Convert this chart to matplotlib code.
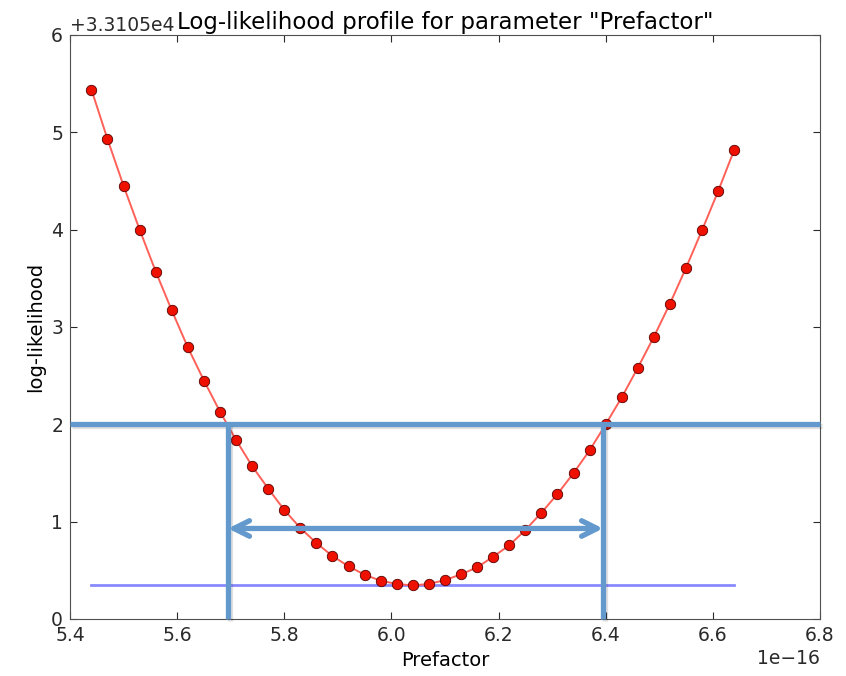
import numpy as np
import matplotlib
matplotlib.use("Agg")
import matplotlib.pyplot as plt
import matplotlib.patheffects as pe

# profile scan of the Prefactor parameter (x in units of 1e-16)
prefactor = [5.44, 5.47, 5.50, 5.53, 5.56, 5.59, 5.62, 5.65, 5.68, 5.71,
             5.74, 5.77, 5.80, 5.83, 5.86, 5.89, 5.92, 5.95, 5.98, 6.01,
             6.04, 6.07, 6.10, 6.13, 6.16, 6.19, 6.22, 6.25, 6.28, 6.31,
             6.34, 6.37, 6.40, 6.43, 6.46, 6.49, 6.52, 6.55, 6.58, 6.61, 6.64]
loglike_rel = [5.44, 4.93, 4.45, 4.00, 3.57, 3.17, 2.79, 2.45, 2.13, 1.84,
               1.57, 1.34, 1.12, 0.935, 0.78, 0.647, 0.541, 0.455, 0.393, 0.36,
               0.345, 0.36, 0.40, 0.459, 0.531, 0.64, 0.757, 0.914, 1.092, 1.284,
               1.50, 1.733, 2.00, 2.278, 2.582, 2.90, 3.241, 3.609, 3.997, 4.397, 4.822]
LL_OFFSET = 33105.0
SCALE = 1e-16

# hand-drawn annotation: 2-unit level, the two crossings, width arrow
level = 2.0
x_lo, x_hi = 5.695, 6.395
arrow_y = 0.93

x = np.array(prefactor) * SCALE
y = np.array(loglike_rel) + LL_OFFSET
ymin = min(loglike_rel) + LL_OFFSET

plt.rcParams.update({
    "font.family": "DejaVu Sans",
    "xtick.direction": "in",
    "ytick.direction": "in",
    "xtick.top": True,
    "ytick.right": True,
    "xtick.major.size": 5,
    "ytick.major.size": 5,
    "xtick.color": "#2a2a2a",
    "ytick.color": "#2a2a2a",
    "axes.edgecolor": "#505050",
})

fig = plt.figure(figsize=(8.46, 6.76), dpi=100)
ax = fig.add_axes([70 / 846, 57 / 676, 750 / 846, 584 / 676])

ax.plot(x, y, "-", color="#ff6058", lw=1.4, zorder=3)
ax.plot(x, y, "o", color="#ee1100", mec="#550000", mew=0.6, ms=7.5, zorder=4)
ax.plot([x[0], x[-1]], [ymin, ymin], color="#7575ff", lw=2, alpha=0.85, zorder=2)

c = "#6399cc"
shadow = [pe.SimpleLineShadow(offset=(1.2, -1.2), alpha=0.12, shadow_color="k"), pe.Normal()]
ax.plot([5.4 * SCALE, 6.8 * SCALE], [LL_OFFSET + level] * 2, color=c, lw=3.8,
        solid_capstyle="butt", clip_on=False, zorder=5, path_effects=shadow)
for xv in (x_lo, x_hi):
    ax.plot([xv * SCALE] * 2, [LL_OFFSET, LL_OFFSET + level], color=c, lw=3.8,
            solid_capstyle="butt", clip_on=False, zorder=5, path_effects=shadow)
ax.annotate("", xy=(x_hi * SCALE, LL_OFFSET + arrow_y),
            xytext=(x_lo * SCALE, LL_OFFSET + arrow_y),
            arrowprops=dict(arrowstyle="<->", color=c, lw=3.8, mutation_scale=28,
                            shrinkA=0, shrinkB=0),
            zorder=5)

ax.set_xlim(5.4 * SCALE, 6.8 * SCALE)
ax.set_ylim(LL_OFFSET, LL_OFFSET + 6)
ax.set_xticks(np.arange(5.4, 6.81, 0.2) * SCALE)
ax.set_yticks(LL_OFFSET + np.arange(0, 7))
ax.yaxis.get_major_formatter().set_useOffset(LL_OFFSET)
ax.tick_params(labelsize=13.5, pad=5)
ax.yaxis.get_offset_text().set_fontsize(13.5)
ax.xaxis.get_offset_text().set_fontsize(13.5)

ax.set_title('Log-likelihood profile for parameter "Prefactor"', fontsize=16.5, pad=4)
ax.set_xlabel("Prefactor", fontsize=14)
ax.set_ylabel("log-likelihood", fontsize=14)

fig.savefig("out.png", dpi=100)
